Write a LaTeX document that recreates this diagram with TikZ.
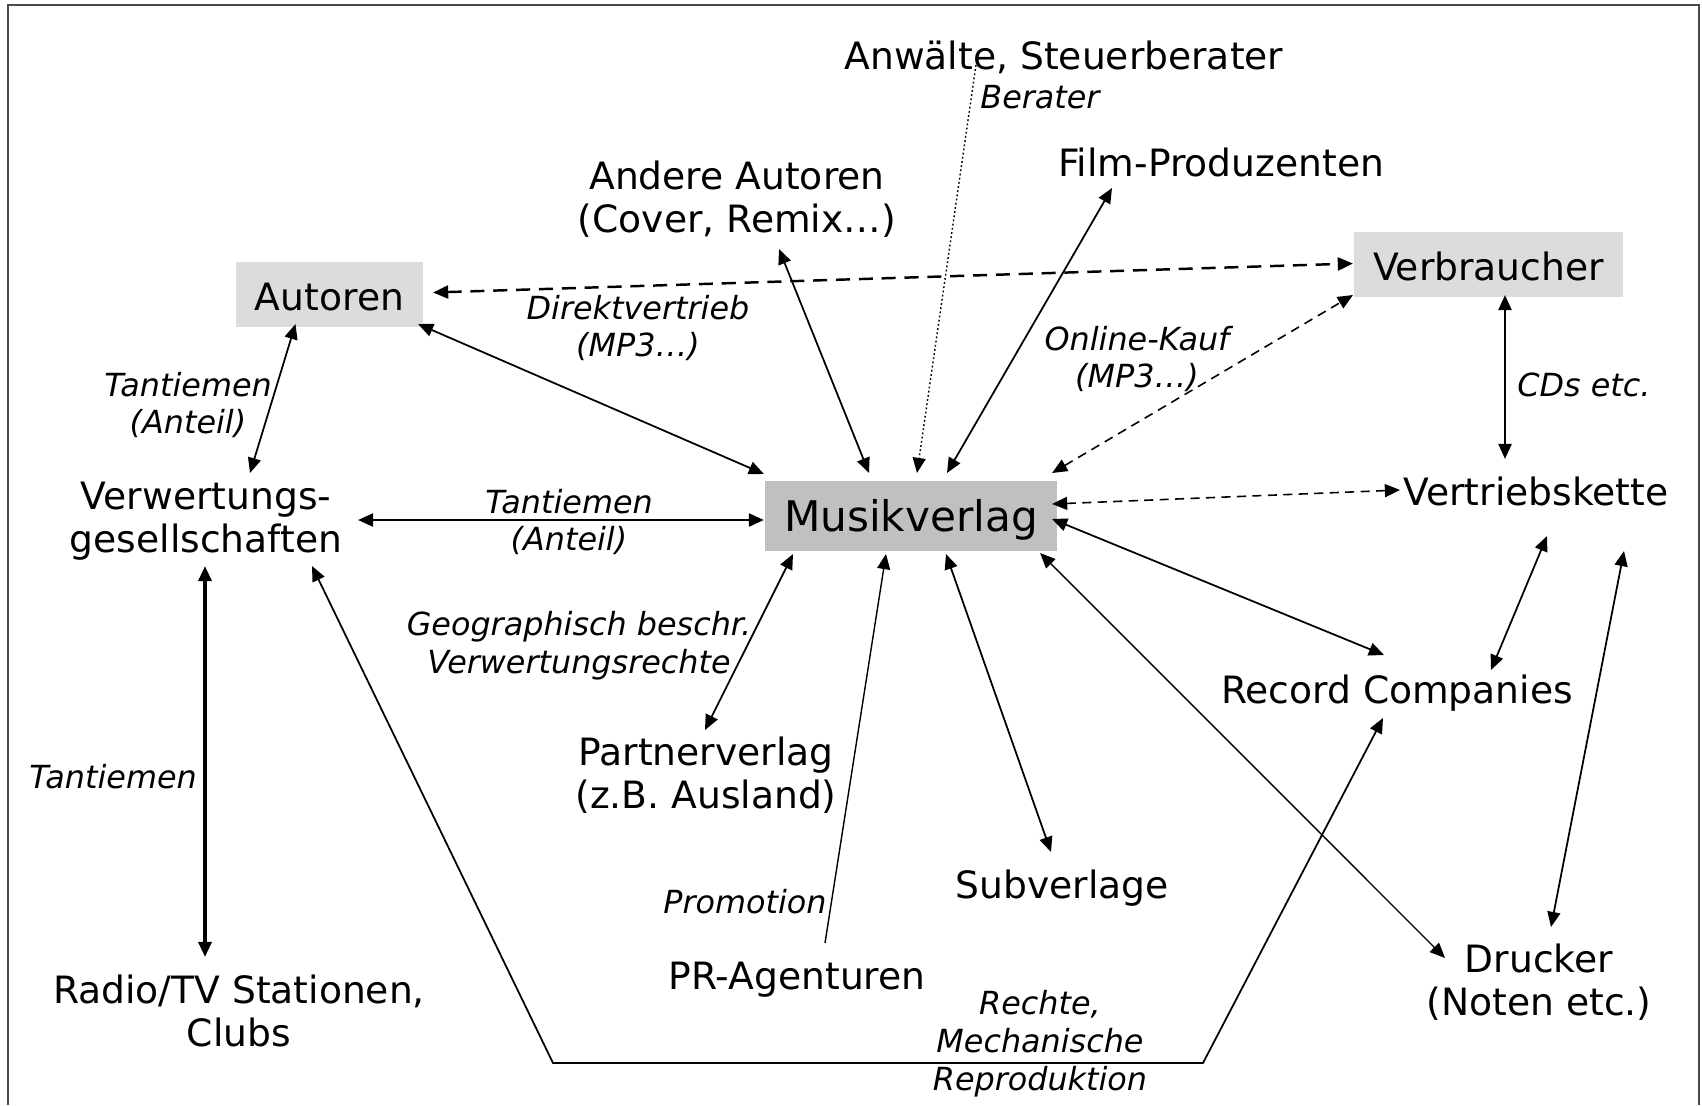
\documentclass[tikz,border=0pt]{standalone}
\usepackage{fontspec}
\setmainfont{DejaVu Sans}
\usetikzlibrary{arrows.meta}
\definecolor{boxlight}{HTML}{DCDCDC}
\definecolor{boxdark}{HTML}{C0C0C0}
\definecolor{framegrey}{HTML}{4A4A4A}
\begin{document}
\begin{tikzpicture}[x=0.01cm, y=-0.01cm,
  >={Triangle[length=4.3pt,width=3.7pt]},
  every node/.style={inner sep=0pt, outer sep=0pt},
  party/.style={font=\fontsize{10.7}{12.4}\selectfont, align=center},
  hub/.style={font=\fontsize{12}{14}\selectfont, fill=boxdark,
              minimum width=2.92cm, minimum height=0.70cm, text depth=0.3pt},
  greybox/.style={party, fill=boxlight, minimum height=0.65cm,
                  text height=9.2pt, text depth=0pt},
  lbl/.style={font=\fontsize{9.05}{10.8}\selectfont\itshape, align=center},
  link/.style={line width=0.5pt},
  thinlink/.style={line width=0.4pt},
  heavylink/.style={line width=0.7pt},
  dashthick/.style={line width=0.7pt, dash pattern=on 4pt off 2.5pt},
  dashthin/.style={line width=0.45pt, dash pattern=on 2.6pt off 1.8pt},
  dotlink/.style={line width=0.4pt, dash pattern=on 0.5pt off 0.7pt},
]
\useasboundingbox (0,0) rectangle (1702,1105);
% outer frame (bottom edge lies outside the page)
\draw[framegrey, line width=0.6pt] (8,1105) -- (8,5) -- (1699,5) -- (1699,1105);

% ---------- parties ----------
\node[hub] (musik) at (911,516) {Musikverlag};
\node[greybox, minimum width=1.87cm] (autoren) at (329.5,294.5) {Autoren};
\node[greybox, minimum width=2.69cm] (verbr) at (1488.5,264.5) {Verbraucher};
\node[party] (anw) at (1064,57) {Anwälte, Steuerberater};
\node[party] (film) at (1221,162) {Film-Produzenten};
\node[party] (andere) at (737,199) {Andere Autoren\\(Cover, Remix…)};
\node[party] (verw) at (206,521) {Verwertungs-\\gesellschaften};
\node[party] (vert) at (1536,491) {Vertriebskette};
\node[party] (record) at (1397,693) {Record Companies};
\node[party] (partner) at (706,775) {Partnerverlag\\(z.B. Ausland)};
\node[party] (sub) at (1062,888) {Subverlage};
\node[party] (pr) at (797,980) {PR-Agenturen};
\node[party] (radio) at (239,1011) {Radio/TV Stationen,\\Clubs};
\node[party] (drucker) at (1539,982) {Drucker\\(Noten etc.)};

% ---------- relation labels ----------
\node[lbl] (lberater) at (1040,97) {Berater};
\node[lbl] (ldirekt) at (638,328) {Direktvertrieb\\(MP3…)};
\node[lbl] (ltantA) at (188,405) {Tantiemen\\(Anteil)};
\node[lbl] (ltantM) at (569,522) {Tantiemen\\(Anteil)};
\node[lbl] (lonline) at (1137,359) {Online-Kauf\\(MP3…)};
\node[lbl] (lcds) at (1584,385) {CDs etc.};
\node[lbl] (lgeo) at (579,646) {Geographisch beschr.\\Verwertungsrechte};
\node[lbl] (ltantR) at (113,777) {Tantiemen};
\node[lbl] (lpromo) at (745,902) {Promotion};
\node[lbl] (lrechte) at (1040,1044) {Rechte,\\Mechanische\\Reproduktion};

% ---------- connectors ----------
\draw[dashthick, <->] ([shift={(10,-2)}]autoren.east) -- ([shift={(-1,-1)}]verbr.west);
\draw[link, <->] ([shift={(-5,-3)}]autoren.south east) -- ([shift={(-1,-7)}]musik.north west);
\draw[link, <->] ([shift={(-34,-3)}]autoren.south) -- ([shift={(44,-48)}]verw.center);
\draw[link, <->] ([shift={(42,50)}]andere.center) -- ([shift={(-42,-8)}]musik.north);
\draw[dotlink, ->] ([shift={(-88,8)}]anw.center) -- ([shift={(6,-8)}]musik.north);
\draw[link, <->] ([shift={(-109,26)}]film.center) -- ([shift={(36,-8)}]musik.north);
\draw[dashthin, <->] ([shift={(-5,-8)}]musik.north east) -- ([shift={(-1,-2)}]verbr.south west);
\draw[heavylink, <->] ([shift={(16.5,-2)}]verbr.south) -- ([shift={(-31,-32)}]vert.center);
\draw[dashthin, <->] ([shift={(-5,-12)}]musik.east) -- ([shift={(-136,-1)}]vert.center);
\draw[link, <->] ([shift={(-5,3)}]musik.east) -- ([shift={(-13,-38)}]record.center);
\draw[link, <->] ([shift={(11,45)}]vert.center) -- ([shift={(94,-23)}]record.center);
\draw[link, <->] ([shift={(88,60)}]vert.center) -- ([shift={(12,-55)}]drucker.center);
\draw[thinlink, <->] ([shift={(-17,2)}]musik.south east) -- ([shift={(-94,-24)}]drucker.center);
\draw[link, <->] ([shift={(35,3)}]musik.south) -- ([shift={(-11,-36)}]sub.center);
\draw[thinlink, ->] ([shift={(28,-37)}]pr.center) -- ([shift={(-25,3)}]musik.south);
\draw[link, <->] ([shift={(-118,3)}]musik.south) -- ([shift={(-1,-45)}]partner.center);
\draw[heavylink, <->] ([shift={(152,-1)}]verw.center) -- ([shift={(-1,4)}]musik.west);
\draw[line width=1pt, <->] ([shift={(-1,45)}]verw.center) -- ([shift={(-34,-54)}]radio.center);
\coordinate (bendL) at (553,1063);
\coordinate (bendR) at (1203,1063);
\draw[link, <->] ([shift={(106,45)}]verw.center) -- (bendL) -- (bendR) -- ([shift={(-14,25)}]record.center);
\end{tikzpicture}
\end{document}
